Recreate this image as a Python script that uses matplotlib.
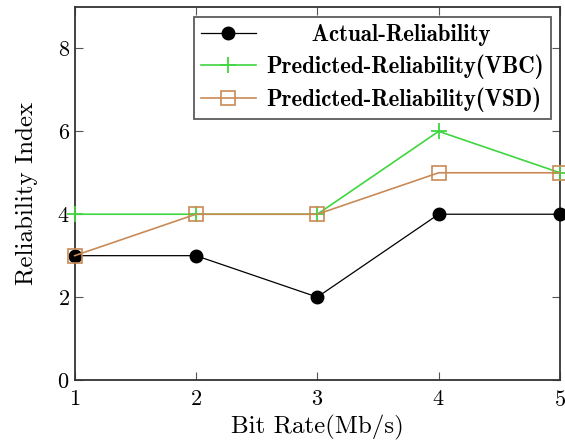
import numpy as np
from matplotlib import pyplot as plt

# data
bit_rates = [1, 2, 3, 4, 5]
actual = [3, 3, 2, 4, 4]
predicted_vbc = [4, 4, 4, 6, 5]
predicted_vsd = [3, 4, 4, 5, 5]

plt.rcParams['font.family'] = ['cmr10', 'DejaVu Serif']
plt.rcParams['mathtext.fontset'] = 'cm'
plt.rcParams['axes.formatter.use_mathtext'] = True

fig = plt.figure(figsize=(5.65, 4.47), dpi=100)
ax = fig.add_axes([74.6 / 565, 1 - 380 / 447, (560 - 74.6) / 565, (380 - 7) / 447])

# leading spaces roughly centre the short label like pgfplots does
ax.plot(bit_rates, actual, color='black', lw=0.9, marker='o', markersize=9,
        label='      Actual-Reliability', clip_on=False, zorder=3)
ax.plot(bit_rates, predicted_vbc, color='#3fd63f', lw=1.2, marker='+', markersize=12,
        markeredgewidth=1.3, label='Predicted-Reliability(VBC)', clip_on=False, zorder=3)
ax.plot(bit_rates, predicted_vsd, color='#c98a55', lw=1.2, marker='s', markersize=10,
        markerfacecolor='none', markeredgewidth=1.2,
        label='Predicted-Reliability(VSD)', clip_on=False, zorder=3)

ax.set_xlim(1, 5)
ax.set_ylim(0, 9)
ax.set_xticks(bit_rates)
ax.set_yticks([0, 2, 4, 6, 8])
ax.tick_params(direction='in', top=True, right=True, labelsize=16, length=6, color='#555555')
ax.tick_params(axis='x', pad=7)
for s in ax.spines.values():
    s.set_linewidth(1.3)
    s.set_color('#333333')

ax.set_xlabel('Bit Rate(Mb/s)', fontsize=18, labelpad=4)
ax.set_ylabel('Reliability Index', fontsize=18, labelpad=14)

leg = ax.legend(loc='upper right', bbox_to_anchor=(0.99, 0.985),
                prop={'family': 'cmb10', 'size': 16.5},
                frameon=True, fancybox=False, edgecolor='#333333', handlelength=2.4,
                borderpad=0.3, labelspacing=0.38, handletextpad=0.45, borderaxespad=0.2)
leg.get_frame().set_linewidth(1.3)

fig.savefig('out.png', dpi=100)
